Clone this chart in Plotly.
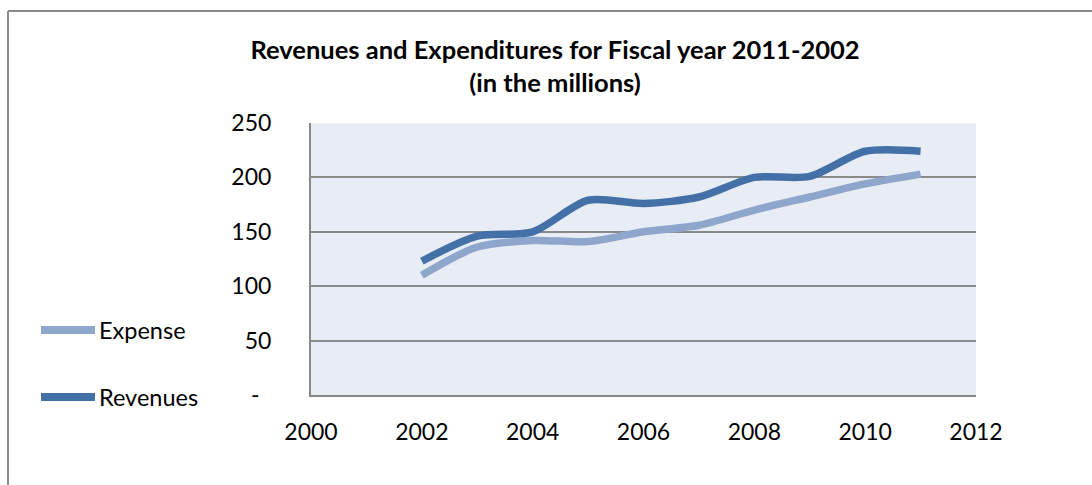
import plotly.graph_objects as go

years = [2002, 2003, 2004, 2005, 2006, 2007, 2008, 2009, 2010, 2011]
expense = [110, 136, 142, 141, 150, 156, 170, 182, 194, 203]
revenues = [123, 146, 150, 179, 176, 182, 200, 201, 224, 224]
x_ticks = [2000, 2002, 2004, 2006, 2008, 2010, 2012]
y_ticks = [0, 50, 100, 150, 200, 250]
y_labels = ["-\u00a0\u00a0", "50", "100", "150", "200", "250"]
series_names = ["Expense", "Revenues"]
series_colors = ["#8EA5CC", "#4470A8"]

FONT = "Lato"
L, R, T, B = 311, 116, 123, 90
W, H = 1092, 485
pw, ph = W - L - R, H - T - B

def px_x(p):
    return (p - L) / pw

def px_y(p):
    return (H - B - p) / ph

fig = go.Figure()
for name, vals, col in zip(series_names, [expense, revenues], series_colors):
    fig.add_trace(go.Scatter(x=years, y=vals, name=name, mode="lines",
                             line=dict(color=col, width=7.5, shape="spline", smoothing=0.8),
                             showlegend=False))

shapes = [
    dict(type="line", xref="paper", yref="paper", x0=px_x(8), x1=px_x(1100),
         y0=px_y(11), y1=px_y(11), line=dict(color="#8A8A8A", width=2)),
    dict(type="line", xref="paper", yref="paper", x0=px_x(8), x1=px_x(8),
         y0=px_y(11), y1=px_y(500), line=dict(color="#8A8A8A", width=2)),
]
annotations = []
leg_y = [330, 397]
for name, col, yy in zip(series_names, series_colors, leg_y):
    shapes.append(dict(type="line", xref="paper", yref="paper",
                       x0=px_x(41), x1=px_x(95), y0=px_y(yy), y1=px_y(yy),
                       line=dict(color=col, width=8)))
    annotations.append(dict(text=name, xref="paper", yref="paper",
                            x=px_x(97), y=px_y(yy), xanchor="left", yanchor="middle",
                            showarrow=False, font=dict(family=FONT, size=23.5, color="black")))

fig.update_layout(
    width=W, height=H,
    margin=dict(l=L, r=R, t=T, b=B),
    paper_bgcolor="white",
    plot_bgcolor="#E8ECF4",
    font=dict(family=FONT, size=23, color="black"),
    title=dict(text="<b>Revenues and Expenditures for Fiscal year 2011-2002<br>(in the millions)</b>",
               x=px_x(555), xref="paper", xanchor="center",
               y=1 - 59 / H, yanchor="middle", yref="container",
               font=dict(family=FONT, size=25.5)),
    showlegend=False,
    xaxis=dict(range=[2000, 2012], tickvals=x_ticks, showgrid=False, zeroline=False,
               showline=True, linecolor="#888888", linewidth=2,
               ticks="", ticklabelstandoff=15, tickfont=dict(size=23)),
    yaxis=dict(range=[0, 250], tickvals=y_ticks, ticktext=y_labels,
               showgrid=True, gridcolor="#8A8A8A", gridwidth=2, zeroline=False,
               showline=True, linecolor="#888888", linewidth=2,
               ticks="", ticklabelstandoff=33, tickfont=dict(size=23)),
    shapes=shapes,
    annotations=annotations,
)

fig.write_html("out.html")
